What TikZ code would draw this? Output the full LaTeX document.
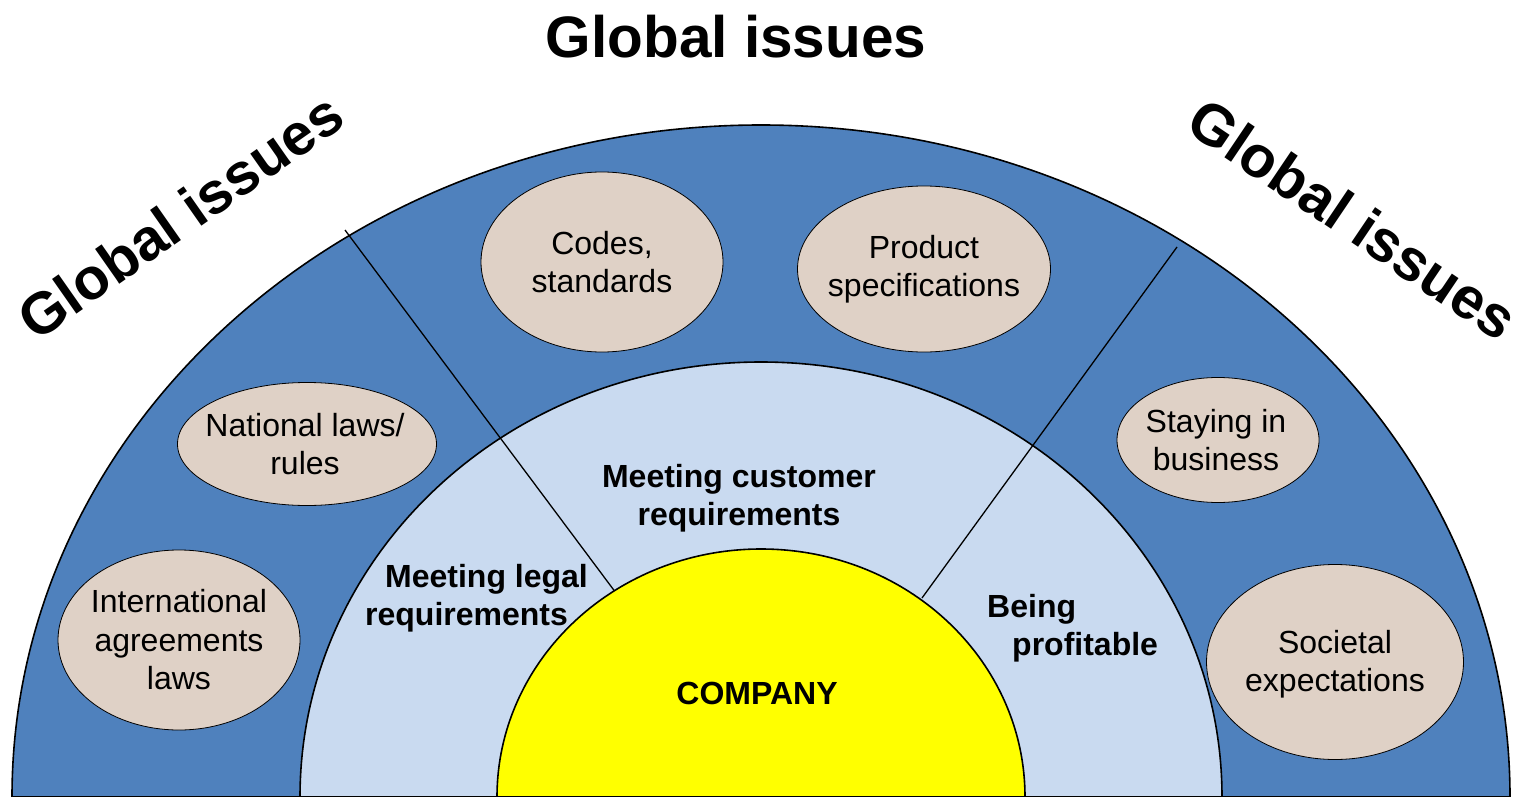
\documentclass[tikz,border=0pt]{standalone}
\usepackage{fontspec}
\setmainfont{Liberation Sans}
\usetikzlibrary{shapes.geometric}
\definecolor{outerblue}{HTML}{4F81BD}
\definecolor{innerblue}{HTML}{C9DAF0}
\definecolor{beige}{HTML}{DFD1C6}
\definecolor{sunyellow}{HTML}{FFFF00}
\begin{document}
\begin{tikzpicture}[x=1pt,y=-1pt,
  band/.style={draw=black, line width=1.6pt},
  divider/.style={draw=black, line width=1.3pt},
  issue/.style={ellipse, draw=black, line width=0.8pt, fill=beige, inner sep=0pt},
  issuetext/.style={inner sep=0pt, align=center, font=\fontsize{32}{38.5}\selectfont},
  goal/.style={inner sep=0pt, font=\fontsize{32}{38.5}\selectfont\bfseries},
  title/.style={inner sep=0pt, font=\fontsize{58.5}{60}\selectfont\bfseries}
]
\useasboundingbox (0,0) rectangle (1521,797);
\fill[white] (0,0) rectangle (1521,797);

% bands
\path[band, fill=outerblue] (12,797) arc[start angle=180, end angle=360, x radius=749, y radius=672] -- cycle;
\path[band, fill=innerblue] (300,797) arc[start angle=180, end angle=360, x radius=461, y radius=435] -- cycle;

% dividers
\coordinate (l1) at (616,593);
\coordinate (l2) at (345,230);
\coordinate (r1) at (922,598);
\coordinate (r2) at (1177,247);
\draw[divider] (l1) -- (l2);
\draw[divider] (r1) -- (r2);

% company
\path[band, fill=sunyellow] (497,797) arc[start angle=180, end angle=360, x radius=264, y radius=248] -- cycle;

% issue ellipses
\node[issue, minimum width=242, minimum height=180] (codes) at (602,262) {};
\node[issuetext] (codes-t) at (codes) {Codes,\\standards};
\node[issue, minimum width=253, minimum height=166] (product) at (924,269) {};
\node[issuetext] (product-t) at (product) {Product\\specifications};
\node[issue, minimum width=259, minimum height=123] (national) at (307,444) {};
\node[issuetext] (national-t) at (305,444) {National laws/\\rules};
\node[issue, minimum width=242, minimum height=180] (intl) at (179,640) {};
\node[issuetext] (intl-t) at (intl) {International\\agreements\\laws};
\node[issue, minimum width=202, minimum height=125] (staying) at (1218,440) {};
\node[issuetext] (staying-t) at (1216,440) {Staying in\\business};
\node[issue, minimum width=257, minimum height=195] (societal) at (1335,662) {};
\node[issuetext] (societal-t) at (1335,664) {Societal\\expectations};

% goals
\node[goal] (company) at (757,693) {COMPANY};
\node[goal, align=center] (customer) at (739,498) {Meeting customer\\requirements};
\node[goal, align=left, anchor=west] (legal) at (365,598) {\hspace*{20pt}Meeting legal\\requirements};
\node[goal, align=left, anchor=west] (profit) at (987,628) {Being\\\hspace*{25pt}profitable};

% titles
\node[title] (ttop) at (736,37) {Global issues};
\node[title, rotate=35] (tleft) at (180,216) {Global issues};
\node[title, rotate=-34] (tright) at (1353,219) {Global issues};
\end{tikzpicture}
\end{document}
